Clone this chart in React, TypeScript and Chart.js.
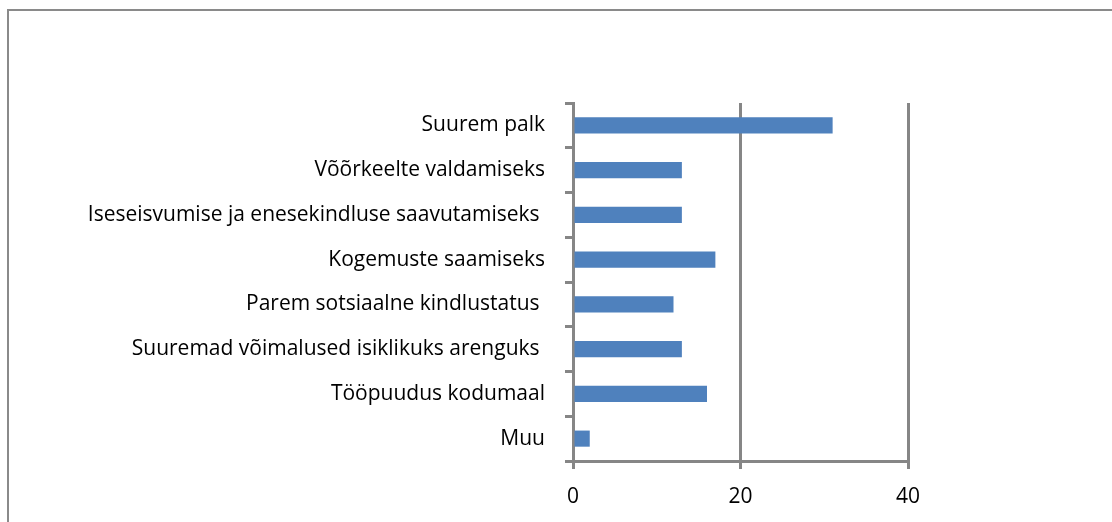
import React, { useEffect, useRef } from "react";
import { Chart, registerables } from "chart.js";

Chart.register(...registerables);

const categories = [
  "Suurem palk",
  "Võõrkeelte valdamiseks",
  "Iseseisvumise ja enesekindluse saavutamiseks ",
  "Kogemuste saamiseks",
  "Parem sotsiaalne kindlustatus ",
  "Suuremad võimalused isiklikuks arenguks ",
  "Tööpuudus kodumaal",
  "Muu",
];
const values = [31, 13, 13, 17, 12, 13, 16, 2];
const xTicks = [0, 20, 40];

const FONT = "'Open Sans', Lato, sans-serif";
const GRID = "#868686";

const framePlugin = {
  id: "frame",
  beforeDraw(chart: any) {
    const ctx = chart.ctx;
    ctx.save();
    ctx.fillStyle = "#ffffff";
    ctx.fillRect(0, 0, chart.width, chart.height);
    ctx.strokeStyle = "#8a8a8a";
    ctx.lineWidth = 2;
    ctx.beginPath();
    ctx.moveTo(8, chart.height + 5);
    ctx.lineTo(8, 10);
    ctx.lineTo(chart.width + 5, 10);
    ctx.stroke();
    ctx.restore();
  },
};

export default function App() {
  const ref = useRef<HTMLCanvasElement | null>(null);
  useEffect(() => {
    if (!ref.current) return;
    const chart = new Chart(ref.current, {
      type: "bar",
      data: {
        labels: categories,
        datasets: [
          {
            data: values,
            backgroundColor: "#4F81BD",
            borderWidth: 0,
            barPercentage: 0.36,
            categoryPercentage: 1,
          },
        ],
      },
      options: {
        indexAxis: "y",
        animation: false,
        responsive: false,
        maintainAspectRatio: false,
        layout: { padding: { top: 103, right: 204, left: 0, bottom: 0 } },
        plugins: { legend: { display: false }, tooltip: { enabled: false } },
        scales: {
          x: {
            min: 0,
            max: 40,
            afterBuildTicks: (scale: any) => {
              scale.ticks = xTicks.map((v) => ({ value: v }));
            },
            afterFit: (scale: any) => {
              scale.height = 61;
            },
            grid: {
              color: GRID,
              lineWidth: 3,
              drawTicks: true,
              tickLength: 8,
              tickColor: GRID,
            },
            border: { color: GRID, width: 3 },
            ticks: {
              color: "#000",
              padding: 15,
              font: { family: FONT, size: 21 },
              maxRotation: 0,
            },
          },
          y: {
            afterFit: (scale: any) => {
              scale.width = 573;
            },
            grid: {
              drawOnChartArea: false,
              drawTicks: true,
              tickLength: 8,
              color: GRID,
              tickColor: GRID,
              lineWidth: 3,
              offset: true,
            },
            border: { color: GRID, width: 3 },
            ticks: {
              color: "#000",
              padding: 20,
              font: { family: FONT, size: 21 },
              autoSkip: false,
            },
          },
        },
      },
      plugins: [framePlugin],
    });
    return () => chart.destroy();
  }, []);
  return (
    <div style={{ position: "absolute", left: 0, top: 0, width: 1112, height: 522 }}>
      <canvas ref={ref} width={1112} height={522} style={{ width: 1112, height: 522, display: "block" }} />
    </div>
  );
}
